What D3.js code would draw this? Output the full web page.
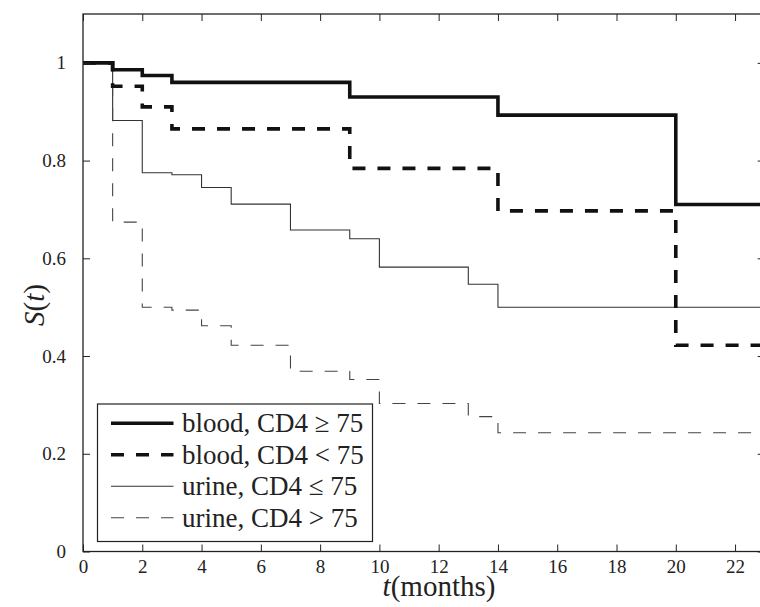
<!DOCTYPE html>
<html lang="en">
<head>
    <meta charset="utf-8">
    <title>Survival curves</title>
    <script src="https://d3js.org/d3.v7.min.js"></script>
    <style type="text/css">
        body { margin: 0; background: #fff; }
    </style>
</head>
<body>
<script type="text/javascript">
    //Width and height
    var w = 760;
    var h = 607;
    var serif = "'Liberation Serif'";

    //Tick values
    var xTicks = [0, 2, 4, 6, 8, 10, 12, 14, 16, 18, 20, 22];
    var yTicks = [0, 0.2, 0.4, 0.6, 0.8, 1];
    var yTickLabels = ["0", "0.2", "0.4", "0.6", "0.8", "1"];

    //Step times (months) and survival after each step
    var bloodHighTimes = [0, 1, 2, 3, 9, 14, 20];
    var bloodHighValues = [1, 0.986, 0.974, 0.960, 0.930, 0.893, 0.710];

    var bloodLowTimes = [0, 1, 2, 3, 9, 14, 20];
    var bloodLowValues = [1, 0.952, 0.910, 0.865, 0.784, 0.697, 0.422];

    var urineLowTimes = [0, 1, 2, 3, 4, 5, 7, 9, 10, 13, 14];
    var urineLowValues = [1, 0.882, 0.775, 0.771, 0.745, 0.711, 0.658, 0.640, 0.582, 0.547, 0.500];

    var urineHighTimes = [0, 1, 2, 3, 4, 5, 7, 9, 10, 13, 14];
    var urineHighValues = [1, 0.674, 0.500, 0.494, 0.462, 0.422, 0.369, 0.352, 0.303, 0.276, 0.243];

    var legendLabels = ["blood, CD4 \u2265 75", "blood, CD4 < 75", "urine, CD4 \u2264 75", "urine, CD4 > 75"];

    var series = [
        { times: bloodHighTimes, values: bloodHighValues, width: 3.6, dash: null, color: "#111" },
        { times: bloodLowTimes, values: bloodLowValues, width: 3.6, dash: "13,12", color: "#111" },
        { times: urineLowTimes, values: urineLowValues, width: 1.1, dash: null, color: "#333" },
        { times: urineHighTimes, values: urineHighValues, width: 1.1, dash: "13,12", color: "#444" }
    ];

    //plot box edges (pixels)
    var pLeft = 83, pRight = 764.7, pTop = 14, pBottom = 551.5;

    var xScale = d3.scaleLinear().domain([0, 23]).range([pLeft, pRight]);
    var yScale = d3.scaleLinear().domain([0, 1.1]).range([pBottom, pTop]);

    var svg = d3.select("body")
        .append("svg")
        .attr("width", w)
        .attr("height", h);

    svg.append("defs").append("clipPath")
        .attr("id", "plotclip")
        .append("rect")
        .attr("x", pLeft).attr("y", pTop)
        .attr("width", pRight - pLeft).attr("height", pBottom - pTop);

    //Step lines
    var line = d3.line()
        .x(function(d) { return xScale(d[0]); })
        .y(function(d) { return yScale(d[1]); })
        .curve(d3.curveStepAfter);

    var plot = svg.append("g").attr("clip-path", "url(#plotclip)");
    //draw thin ones first, thick on top
    [2, 3, 1, 0].forEach(function(i) {
        var s = series[i];
        var pts = s.times.map(function(t, j) { return [t, s.values[j]]; });
        pts.push([xScale.domain()[1], s.values[s.values.length - 1]]);
        plot.append("path")
            .attr("d", line(pts))
            .attr("fill", "none")
            .attr("stroke", s.color)
            .attr("stroke-width", s.width)
            .attr("stroke-dasharray", s.dash);
    });

    //restyle an axis group: serif labels, no domain path
    function styleAxis(g) {
        g.select(".domain").remove();
        g.attr("font-family", null).attr("font-size", null);
        g.selectAll("line").attr("stroke", "#222").attr("stroke-width", 1);
        g.selectAll("text")
            .attr("fill", "#222")
            .style("font-family", serif)
            .style("font-size", "19px");
    }

    //Axes (inward ticks on all four sides)
    var tickLen = 7;
    svg.append("g")
        .attr("transform", "translate(0," + pBottom + ")")
        .call(d3.axisBottom(xScale).tickValues(xTicks).tickSizeInner(-tickLen).tickSizeOuter(0).tickPadding(8))
        .call(styleAxis);
    svg.append("g")
        .attr("transform", "translate(0," + pTop + ")")
        .call(d3.axisTop(xScale).tickValues(xTicks).tickSizeInner(-tickLen).tickSizeOuter(0).tickFormat(""))
        .call(styleAxis);
    svg.append("g")
        .attr("transform", "translate(" + pLeft + ",0)")
        .call(d3.axisLeft(yScale).tickValues(yTicks).tickSizeInner(-tickLen).tickSizeOuter(0).tickPadding(17)
            .tickFormat(function(d, i) { return yTickLabels[i]; }))
        .call(styleAxis);
    svg.append("g")
        .attr("transform", "translate(" + pRight + ",0)")
        .call(d3.axisRight(yScale).tickValues(yTicks).tickSizeInner(-tickLen).tickSizeOuter(0).tickFormat(""))
        .call(styleAxis);

    //Box
    svg.append("rect")
        .attr("x", pLeft).attr("y", pTop)
        .attr("width", pRight - pLeft).attr("height", pBottom - pTop)
        .attr("fill", "none")
        .attr("stroke", "#222")
        .attr("stroke-width", 1.3);

    //Axis labels
    var xl = svg.append("text")
        .attr("x", 439).attr("y", 596)
        .attr("text-anchor", "middle")
        .attr("fill", "#222")
        .style("font-family", serif)
        .style("font-size", "29px");
    xl.append("tspan").style("font-style", "italic").text("t");
    xl.append("tspan").text("(months)");

    var yl = svg.append("text")
        .attr("transform", "translate(44,305) rotate(-90)")
        .attr("text-anchor", "middle")
        .attr("fill", "#222")
        .style("font-family", serif)
        .style("font-size", "29px");
    yl.append("tspan").style("font-style", "italic").text("S");
    yl.append("tspan").text("(");
    yl.append("tspan").style("font-style", "italic").text("t");
    yl.append("tspan").text(")");

    //Legend
    var legend = svg.append("g");
    legend.append("rect")
        .attr("x", 97.5).attr("y", 404)
        .attr("width", 275).attr("height", 137.5)
        .attr("fill", "#fff")
        .attr("stroke", "#222")
        .attr("stroke-width", 1.2);

    var rowY = d3.scaleLinear().domain([0, 3]).range([423.3, 517.7]);
    series.forEach(function(s, i) {
        legend.append("line")
            .attr("x1", 111).attr("x2", 173.5)
            .attr("y1", rowY(i)).attr("y2", rowY(i))
            .attr("stroke", s.color)
            .attr("stroke-width", s.width)
            .attr("stroke-dasharray", s.dash);
        legend.append("text")
            .attr("x", 182).attr("y", rowY(i) + 9)
            .attr("fill", "#222")
            .style("font-family", serif)
            .style("font-size", "27px")
            .text(legendLabels[i]);
    });
</script>
</body>
</html>
